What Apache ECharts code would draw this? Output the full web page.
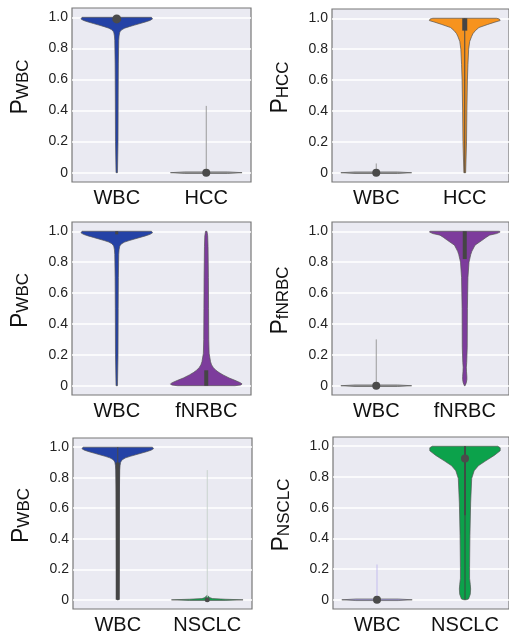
<!DOCTYPE html>
<html>
<head>
<meta charset="utf-8">
<script src="https://cdn.jsdelivr.net/npm/echarts@6/dist/echarts.min.js"></script>
<style>
  html, body { margin: 0; padding: 0; background: #fff; }
  #chart { width: 509px; height: 635px; }
</style>
</head>
<body>
<div id="chart"></div>
<script>
// categories and axis labels per panel
const categories = [
  ['WBC', 'HCC'], ['WBC', 'HCC'],
  ['WBC', 'fNRBC'], ['WBC', 'fNRBC'],
  ['WBC', 'NSCLC'], ['WBC', 'NSCLC']
];
const yLabelSubs = ['WBC', 'HCC', 'WBC', 'fNRBC', 'WBC', 'NSCLC'];
const yTickValues = [0, 0.2, 0.4, 0.6, 0.8, 1.0];

// violin density profiles: [probability, relative density]
const wbcPeak = [[0, 0.02], [0.2, 0.035], [0.5, 0.04], [0.7, 0.045], [0.85, 0.055], [0.88, 0.065],
  [0.9, 0.08], [0.91, 0.1], [0.92, 0.14], [0.93, 0.22], [0.94, 0.35], [0.95, 0.5], [0.96, 0.65],
  [0.97, 0.8], [0.98, 0.93], [0.99, 1.0], [1.0, 0.97]];
const flatZero = [[-0.005, 0.6], [0, 1], [0.005, 0.6]];
const hccPeak = [[0, 0.025], [0.2, 0.05], [0.4, 0.06], [0.6, 0.075], [0.7, 0.09], [0.8, 0.11],
  [0.85, 0.14], [0.88, 0.19], [0.9, 0.23], [0.92, 0.3], [0.94, 0.4], [0.96, 0.65], [0.975, 0.85],
  [0.985, 1.0], [0.995, 0.98], [1.0, 0.9]];
const fnrbcLow = [[0, 0.8], [0.005, 0.97], [0.012, 1.0], [0.02, 0.95], [0.035, 0.8], [0.05, 0.64],
  [0.07, 0.47], [0.085, 0.36], [0.1, 0.27], [0.117, 0.2], [0.135, 0.15], [0.155, 0.12], [0.21, 0.08],
  [0.3, 0.07], [0.5, 0.065], [0.7, 0.06], [0.9, 0.05], [0.97, 0.04], [1.0, 0.02]];
const fnrbcPeak = [[0, 0.01], [0.02, 0.045], [0.04, 0.06], [0.06, 0.06], [0.09, 0.05], [0.12, 0.045],
  [0.15, 0.055], [0.25, 0.07], [0.5, 0.075], [0.7, 0.09], [0.8, 0.12], [0.82, 0.14], [0.85, 0.17],
  [0.87, 0.2], [0.91, 0.29], [0.94, 0.48], [0.96, 0.6], [0.975, 0.7], [0.985, 0.9], [0.995, 1.0], [1.0, 0.98]];
const nsclcFlat = [[-0.004, 0.5], [0, 1], [0.004, 0.5], [0.008, 0.15], [0.015, 0.06], [0.025, 0.03], [0.03, 0]];
const nsclcPeak = [[0, 0.03], [0.005, 0.1], [0.036, 0.15], [0.07, 0.16], [0.1, 0.15], [0.14, 0.13],
  [0.21, 0.13], [0.42, 0.14], [0.63, 0.16], [0.79, 0.19], [0.84, 0.26], [0.873, 0.38], [0.905, 0.59],
  [0.94, 0.83], [0.97, 1.0], [0.99, 1.0], [1.0, 0.93]];

const violinShapes = [
  [wbcPeak, flatZero], [flatZero, hccPeak],
  [wbcPeak, fnrbcLow], [flatZero, fnrbcPeak],
  [wbcPeak, nsclcFlat], [flatZero, nsclcPeak]
];

// inner statistics: whisker range, box range, median point
const whiskerRanges = [
  [null, [0, 0.43]], [[0, 0.06], [0, 1]],
  [null, null], [[0, 0.3], null],
  [[0, 1], [0, 0.85]], [[0, 0.23], [0, 1]]
];
const boxRanges = [
  [[0.98, 1], null], [null, [0.92, 1]],
  [[0.98, 1], [0, 0.1]], [null, [0.82, 1]],
  [[0, 0.9], null], [null, [0.55, 1]]
];
const medianPoints = [
  [0.99, 0], [0, null],
  [null, null], [0, null],
  [null, 0], [0, 0.92]
];

// styles
const fills = [
  ['#2442a6', '#a0a0a0'], ['#a0a0a0', '#f7931e'],
  ['#2442a6', '#7d3c9c'], ['#a0a0a0', '#7d3c9c'],
  ['#2442a6', '#10a54e'], ['#aaa2e2', '#0ca24b']
];
const whiskerColors = [
  ['#4a4a4a', '#9a9a9a'], ['#9a9a9a', '#4a4a4a'],
  ['#4a4a4a', '#4a4a4a'], ['#9a9a9a', '#4a4a4a'],
  ['#4a4a4a', '#c9d3ce'], ['#c4bdee', '#3a4a40']
];
const boxWidths = [[3, 0], [0, 5], [3, 4], [0, 4], [4, 0], [0, 1.6]];
const dotSizes = [[4.5, 4], [4, 0], [0, 0], [4, 0], [0, 2.5], [4, 4]];

const grids = [
  { left: 72, top: 8, width: 179, height: 174 },
  { left: 332, top: 9, width: 180, height: 173 },
  { left: 72, top: 222, width: 179, height: 173 },
  { left: 332, top: 222, width: 180, height: 173 },
  { left: 73, top: 438, width: 179, height: 173 },
  { left: 333, top: 437, width: 180, height: 172 }
];

function makeRender(p) {
  return function (params, api) {
    const i = params.dataIndex;
    const shape = violinShapes[p][i];
    const band = api.size([1, 0])[0];
    const half = band * 0.4;
    const cx = api.coord([i, 0])[0];
    const left = [], right = [];
    shape.forEach(function (d) {
      const py = api.coord([i, d[0]])[1];
      left.push([cx - d[1] * half, py]);
      right.unshift([cx + d[1] * half, py]);
    });
    const children = [{
      type: 'polygon',
      shape: { points: left.concat(right) },
      style: { fill: fills[p][i], stroke: '#555', lineWidth: 0.7 }
    }];
    const wr = whiskerRanges[p][i];
    if (wr) {
      children.push({
        type: 'line',
        shape: { x1: cx, y1: api.coord([i, wr[0]])[1], x2: cx, y2: api.coord([i, wr[1]])[1] },
        style: { stroke: whiskerColors[p][i], lineWidth: 1 }
      });
    }
    const br = boxRanges[p][i];
    if (br) {
      children.push({
        type: 'line',
        shape: { x1: cx, y1: api.coord([i, br[0]])[1], x2: cx, y2: api.coord([i, br[1]])[1] },
        style: { stroke: '#454545', lineWidth: boxWidths[p][i] }
      });
    }
    const m = medianPoints[p][i];
    if (m !== null && dotSizes[p][i] > 0) {
      children.push({
        type: 'circle',
        shape: { cx: cx, cy: api.coord([i, m])[1], r: dotSizes[p][i] },
        style: { fill: '#4b4b4b' }
      });
    }
    return { type: 'group', children: children };
  };
}

const option = {
  animation: false,
  grid: grids.map(g => Object.assign({
    show: true, backgroundColor: '#eaeaf2', borderColor: '#777', borderWidth: 1.2
  }, g)),
  xAxis: categories.map((c, k) => ({
    type: 'category', gridIndex: k, data: c,
    axisLine: { show: false }, axisTick: { show: false },
    axisLabel: { interval: 0, fontSize: 20, color: '#111', margin: 6, fontFamily: 'Liberation Sans' }
  })),
  yAxis: yLabelSubs.map((s, k) => ({
    type: 'value', gridIndex: k, min: -0.06, max: 1.06,
    name: '{p|P}{s|' + s + '}', nameLocation: 'middle', nameGap: 40, nameRotate: 90,
    nameTextStyle: {
      padding: [0, 0, 0, 16],
      rich: {
        p: { fontSize: 23, lineHeight: 26, verticalAlign: 'bottom', color: '#111', fontFamily: 'Liberation Sans' },
        s: { fontSize: 17, lineHeight: 19, verticalAlign: 'bottom', color: '#111', fontFamily: 'Liberation Sans' }
      }
    },
    axisLine: { show: false },
    axisTick: { show: false, customValues: yTickValues },
    axisLabel: {
      customValues: yTickValues, fontSize: 14, color: '#222', margin: 4, fontFamily: 'Liberation Sans',
      formatter: v => (v === 0 ? '0' : v.toFixed(1))
    },
    splitLine: { show: true, lineStyle: { color: '#fff', width: 1.5 } }
  })),
  series: categories.map((c, k) => ({
    type: 'custom', xAxisIndex: k, yAxisIndex: k, clip: true,
    renderItem: makeRender(k),
    encode: { x: 0, y: 1 },
    data: c.map((name, i) => [i, 0.5])
  }))
};

const chart = echarts.init(document.getElementById('chart'));
chart.setOption(option);
</script>
</body>
</html>
